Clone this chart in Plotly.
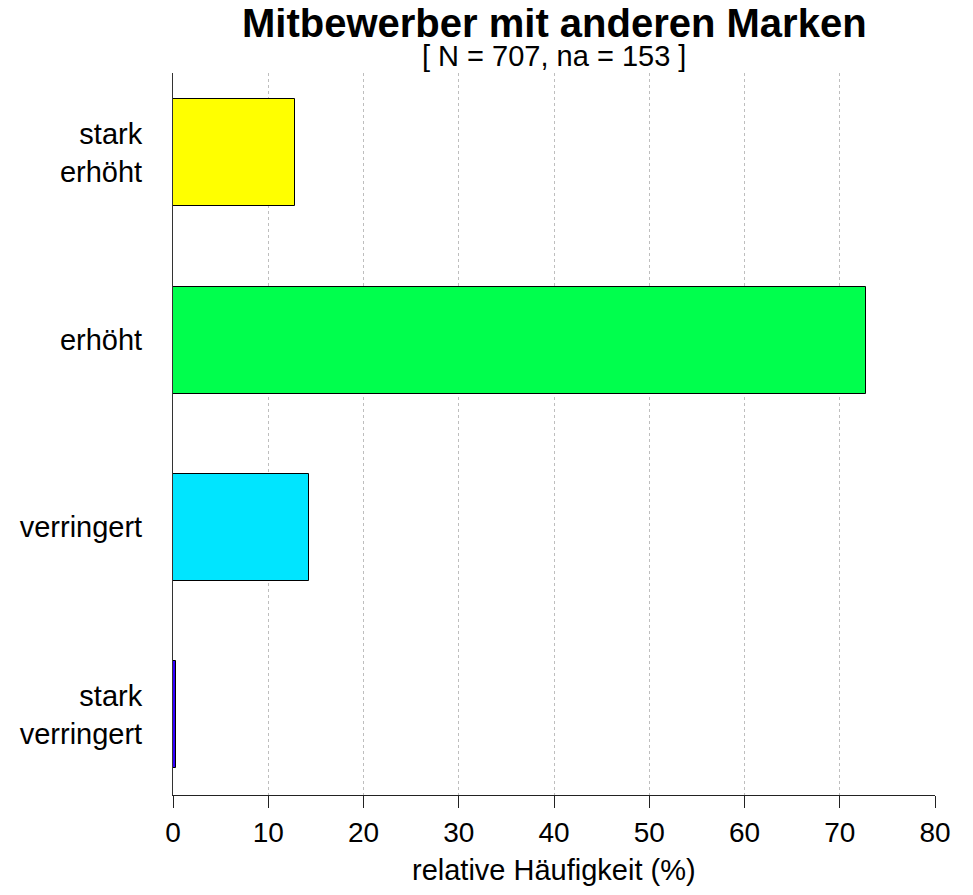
import plotly.graph_objects as go

categories = ["stark verringert", "verringert", "erhöht", "stark erhöht"]
category_labels = ["stark<br>verringert", "verringert", "erhöht", "stark<br>erhöht"]
values = [0.3, 14.26, 72.74, 12.82]
colors = ["#3300FF", "#00E5FF", "#00FF4D", "#FFFF00"]
x_ticks = [0, 10, 20, 30, 40, 50, 60, 70, 80]

FONT = "Liberation Sans, Arial, sans-serif"

# page body has an 8px margin; the figure is sized to compensate
PLOT_H = 722
fig = go.Figure()
fig.add_trace(go.Bar(
    x=values,
    y=categories,
    orientation="h",
    width=1 / 1.75,
    marker=dict(color=colors, line=dict(color="black", width=1)),
    hoverinfo="x+y",
))

fig.update_layout(
    width=965,
    height=887,
    margin=dict(l=165, r=38, t=65, b=100),
    paper_bgcolor="white",
    plot_bgcolor="white",
    showlegend=False,
    bargap=0,
    annotations=[
        dict(text="<b>Mitbewerber mit anderen Marken</b>", xref="paper", yref="paper",
             x=0.5, y=1 + (65 - 15) / PLOT_H, xanchor="center", yanchor="middle",
             showarrow=False, font=dict(family=FONT, size=40, color="black")),
        dict(text="[ N = 707, na = 153 ]", xref="paper", yref="paper",
             x=0.5, y=1 + (65 - 48) / PLOT_H, xanchor="center", yanchor="middle",
             showarrow=False, font=dict(family=FONT, size=29, color="black")),
        dict(text="relative Häufigkeit (%)", xref="paper", yref="paper",
             x=0.5, y=-(870 - 795) / PLOT_H, xanchor="center", yanchor="middle",
             showarrow=False, font=dict(family=FONT, size=29, color="black")),
    ],
    xaxis=dict(
        range=[0, 80],
        tickvals=x_ticks,
        ticktext=[str(t) for t in x_ticks],
        ticks="outside", ticklen=12, tickwidth=1, tickcolor="#222",
        showline=True, linecolor="#222", linewidth=1,
        showgrid=True, gridcolor="#BEBEBE", griddash="dot", gridwidth=1,
        zeroline=False,
        tickfont=dict(family=FONT, size=28, color="black"),
        fixedrange=True,
    ),
    yaxis=dict(
        type="category",
        categoryorder="array",
        categoryarray=categories,
        tickvals=categories,
        ticktext=category_labels,
        range=[-0.43, 3.427],
        ticks="",
        showline=True, linecolor="#333", linewidth=1,
        showgrid=False, zeroline=False,
        ticklabelstandoff=24,
        tickfont=dict(family=FONT, size=29, color="black"),
        fixedrange=True,
    ),
)

fig.write_html("out.html")
